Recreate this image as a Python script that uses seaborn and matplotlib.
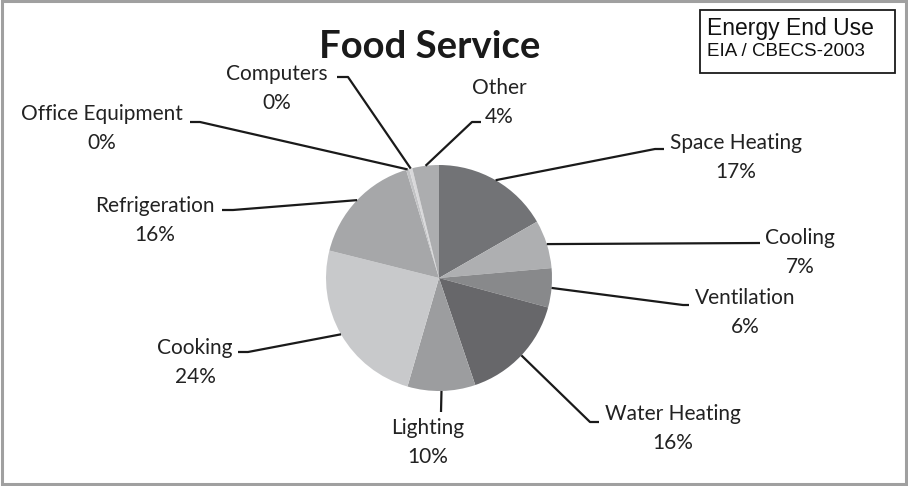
import numpy as np
import matplotlib
matplotlib.use("Agg")
import matplotlib.pyplot as plt
import seaborn as sns
from matplotlib.patches import Rectangle

# Datos: uso final de energía, servicio de comida (EIA / CBECS-2003)
categorias = ["Space Heating", "Cooling", "Ventilation", "Water Heating", "Lighting",
              "Cooking", "Refrigeration", "Office Equipment", "Computers", "Other"]
valores = [16.7, 6.9, 5.6, 15.6, 9.7, 24.4, 16.4, 0.45, 0.45, 3.8]
etiquetas_pct = ["17%", "7%", "6%", "16%", "10%", "24%", "16%", "0%", "0%", "4%"]
colores = ["#727376", "#aeafb1", "#88898b", "#67676a", "#9c9d9f",
           "#c8c9cb", "#a6a7a9", "#c2c3c5", "#d8d8da", "#acadaf"]

sns.set_theme(style="white")
plt.rcParams["font.family"] = ["Lato", "DejaVu Sans"]

W, H = 908, 486
fig = plt.figure(figsize=(W / 100, H / 100), dpi=100)
ax = fig.add_axes([0, 0, 1, 1])

cx, cy, r = 439, H - 278, 113
wedges, _ = ax.pie(valores, colors=colores, startangle=90, counterclock=False,
                   center=(cx, cy), radius=r, frame=True,
                   wedgeprops=dict(linewidth=0))
ax.set_xlim(0, W)
ax.set_ylim(0, H)
ax.set_aspect("equal")
ax.axis("off")

# posiciones de etiquetas (pixeles): centro del texto, puntos de la linea guia
layout = {
    "Space Heating":    ((736, 143), [(655, 149), (664, 149)]),
    "Cooling":          ((800, 238), [(760, 243)]),
    "Ventilation":      ((745, 298), [(683, 305), (689, 305)]),
    "Water Heating":    ((673, 414), [(590, 422), (599, 422)]),
    "Lighting":         ((428, 428), [(441, 412)]),
    "Cooking":          ((195, 348), [(248, 352), (238, 352)]),
    "Refrigeration":    ((155, 206), [(233, 210), (222, 210)]),
    "Office Equipment": ((102, 114), [(200, 122), (190, 122)]),
    "Computers":        ((277, 74),  [(348, 77), (337, 77)]),
    "Other":            ((499, 88),  [(472, 122), (481, 122)]),
}

for w, cat, pct in zip(wedges, categorias, etiquetas_pct):
    ang = np.deg2rad((w.theta1 + w.theta2) / 2)
    x0 = cx + r * np.cos(ang)
    y0 = cy + r * np.sin(ang)
    (tx, ty), pts = layout[cat]
    xs = [x0] + [p[0] for p in pts]
    ys = [y0] + [H - p[1] for p in pts]
    ax.plot(xs, ys, color="#1a1a1a", lw=1.6, solid_capstyle="butt")
    ax.text(tx, H - ty, cat, ha="center", va="center", fontsize=15, color="#222222")
    ax.text(tx, H - ty - 29, pct, ha="center", va="center", fontsize=15, color="#222222")

ax.text(430, H - 47, "Food Service", ha="center", va="center",
        fontsize=27.5, fontweight="bold", color="#1a1a1a")

# recuadro de fuente
ax.add_patch(Rectangle((700, H - 73), 195, 63, fill=False, ec="#1a1a1a", lw=1.3))
ax.text(707, H - 29, "Energy End Use", ha="left", va="center", fontsize=16.5,
        family="Liberation Sans", color="#111111")
ax.text(707, H - 52, "EIA / CBECS-2003", ha="left", va="center", fontsize=13.5,
        family="Liberation Sans", color="#111111")

# borde exterior
ax.add_patch(Rectangle((1.5, 2.5), W - 4, H - 4, fill=False, ec="#a0a0a0", lw=2.2))

plt.savefig("out.png", dpi=100)
